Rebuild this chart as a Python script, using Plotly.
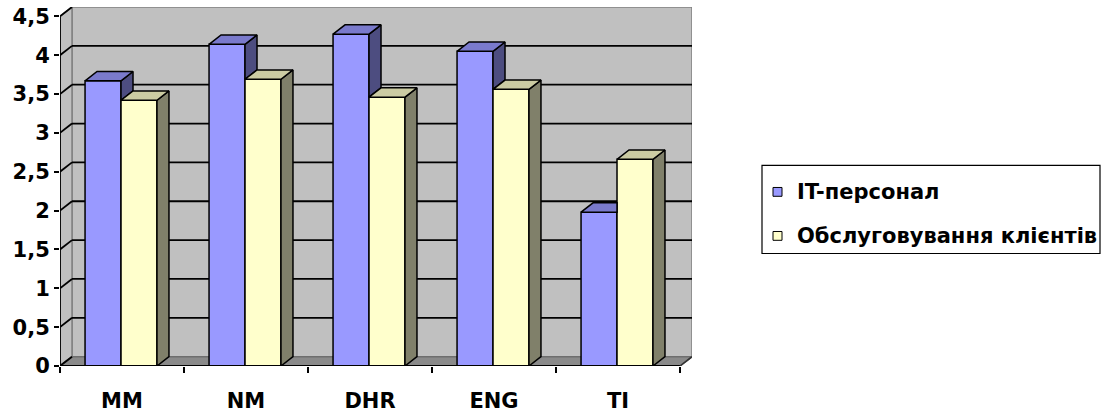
import plotly.graph_objects as go

# ---- data ----
categories = ["MM", "NM", "DHR", "ENG", "TI"]
it_staff = [3.67, 4.14, 4.27, 4.05, 1.98]
customer_service = [3.42, 3.69, 3.46, 3.56, 2.66]
series_names = ["IT-персонал", "Обслуговування клієнтів"]
y_ticks = [0, 0.5, 1, 1.5, 2, 2.5, 3, 3.5, 4, 4.5]
y_tick_text = [f"{v:g}".replace(".", ",") for v in y_ticks]

# ---- styling / geometry ----
W, H = 1103, 418
L, R, T, B = 60, 411, 5, 46
DX = 12 / 124          # depth of the 3-D box along x (data units)
DY = 0.12              # depth of the 3-D box along y (data units)
BAR_W = 0.29
OFFSETS = [-0.298, -0.008]
FRONT = ["#9999FF", "#FFFFCC"]
TOP = ["#7A7ACC", "#CCCCA3"]
SIDE = ["#4D4D80", "#80806A"]
WALL = "#C0C0C0"
FLOOR = "#8A8A8A"
EDGE = "#808080"
FONT = dict(family="DejaVu Sans", size=21, color="black", weight="bold")
GRID_W = 1.8

n = len(categories)
xs = list(range(n))
x_lo, x_hi = -0.5, n - 0.5
y_top = y_ticks[-1]

fig = go.Figure()

# front faces
for k, vals in enumerate([it_staff, customer_service]):
    fig.add_trace(go.Bar(
        x=xs, y=vals, width=BAR_W, offset=OFFSETS[k],
        marker=dict(color=FRONT[k], line=dict(color="black", width=1.5)),
        name=series_names[k], showlegend=False, hoverinfo="skip",
    ))


def add_poly(px, py, color):
    fig.add_trace(go.Scatter(
        x=px, y=py, mode="lines", fill="toself", fillcolor=color,
        line=dict(color="black", width=1.5), showlegend=False, hoverinfo="skip",
    ))


# side and top faces, hidden parts trimmed by the neighbouring bar
for k, vals in enumerate([it_staff, customer_service]):
    sx, sy, tx, ty = [], [], [], []
    for i, h in enumerate(vals):
        x0 = i + OFFSETS[k]
        x1 = x0 + BAR_W
        base = 0.0
        clip_top = False
        if k == 0:
            h2 = customer_service[i]
            if h2 >= h:
                base = None
                clip_top = True
            else:
                base = h2
        if base is not None:
            sx += [x1, x1, x1 + DX, x1 + DX, x1, None]
            sy += [base, h, h + DY, base + DY, base, None]
        if clip_top:
            tx += [x0, x1, x1, x0 + DX, x0, None]
            ty += [h, h, h + DY, h + DY, h, None]
        else:
            tx += [x0, x1, x1 + DX, x0 + DX, x0, None]
            ty += [h, h, h + DY, h + DY, h, None]
    add_poly(sx, sy, SIDE[k])
    add_poly(tx, ty, TOP[k])

# ---- walls, floor and gridlines ----
shapes = [
    dict(type="rect", xref="x", yref="y", x0=x_lo + DX, x1=x_hi + DX, y0=DY, y1=y_top + DY,
         fillcolor=WALL, line=dict(color=EDGE, width=1.5), layer="below"),
    dict(type="path", xref="x", yref="y",
         path=f"M {x_lo},0 L {x_lo},{y_top} L {x_lo + DX},{y_top + DY} L {x_lo + DX},{DY} Z",
         fillcolor=WALL, line=dict(color=EDGE, width=1.5), layer="below"),
    dict(type="path", xref="x", yref="y",
         path=f"M {x_lo},0 L {x_hi},0 L {x_hi + DX},{DY} L {x_lo + DX},{DY} Z",
         fillcolor=FLOOR, line=dict(color="#6E6E6E", width=1.5), layer="below"),
]
for v in y_ticks:
    if 0 < v < y_top:
        shapes.append(dict(type="line", xref="x", yref="y", x0=x_lo + DX, x1=x_hi + DX,
                           y0=v + DY, y1=v + DY, line=dict(color="black", width=GRID_W),
                           layer="below"))
    shapes.append(dict(type="line", xref="x", yref="y", x0=x_lo, x1=x_lo + DX,
                       y0=v, y1=v + DY, line=dict(color="black", width=GRID_W), layer="below"))

# front axis lines
shapes += [
    dict(type="line", xref="x", yref="y", x0=x_lo, x1=x_lo, y0=0, y1=y_top,
         line=dict(color="black", width=1.8), layer="above"),
    dict(type="line", xref="x", yref="y", x0=x_lo, x1=x_hi, y0=0, y1=0,
         line=dict(color="black", width=1.8), layer="above"),
    dict(type="line", xref="x", yref="y", x0=x_hi, x1=x_hi + DX, y0=0, y1=DY,
         line=dict(color="#333333", width=1.5), layer="above"),
]

# ---- legend box ----
pw, ph = W - L - R, H - T - B


def px_x(p):
    return (p - L) / pw


def px_y(p):
    return (H - B - p) / ph


leg_left, leg_right, leg_top, leg_bottom = 762, 1100, 167, 257
item_y = [194, 239]
shapes.append(dict(type="rect", xref="paper", yref="paper",
                   x0=px_x(leg_left), x1=px_x(leg_right), y0=px_y(leg_bottom), y1=px_y(leg_top),
                   fillcolor="white", line=dict(color="black", width=1.2)))
annotations = []
for k, name in enumerate(series_names):
    cy = item_y[k]
    shapes.append(dict(type="rect", xref="paper", yref="paper",
                       x0=px_x(773), x1=px_x(782), y0=px_y(cy + 4.5), y1=px_y(cy - 4.5),
                       fillcolor=FRONT[k], line=dict(color="black", width=1)))
    annotations.append(dict(text=name, xref="paper", yref="paper", x=px_x(795), y=px_y(cy),
                            xanchor="left", yanchor="middle", showarrow=False, font=FONT))

fig.update_layout(
    width=W, height=H,
    margin=dict(l=L, r=R, t=T, b=B, pad=0),
    paper_bgcolor="white", plot_bgcolor="white",
    barmode="overlay",
    showlegend=False,
    shapes=shapes,
    annotations=annotations,
    xaxis=dict(
        range=[x_lo, x_hi + DX], tickvals=xs, ticktext=categories,
        ticks="", showgrid=False, zeroline=False, showline=False,
        tickfont=FONT, ticklabelstandoff=20,
        minor=dict(tickvals=[i - 0.5 for i in range(n + 1)], ticks="outside",
                   ticklen=6, tickwidth=1.5, tickcolor="black", showgrid=False),
        fixedrange=True,
    ),
    yaxis=dict(
        range=[0, y_top + DY], tickvals=y_ticks, ticktext=y_tick_text,
        ticks="outside", ticklen=5, tickwidth=1.5, tickcolor="black",
        showgrid=False, zeroline=False, showline=False, tickfont=FONT,
        fixedrange=True,
    ),
)

fig.write_html("out.html")
